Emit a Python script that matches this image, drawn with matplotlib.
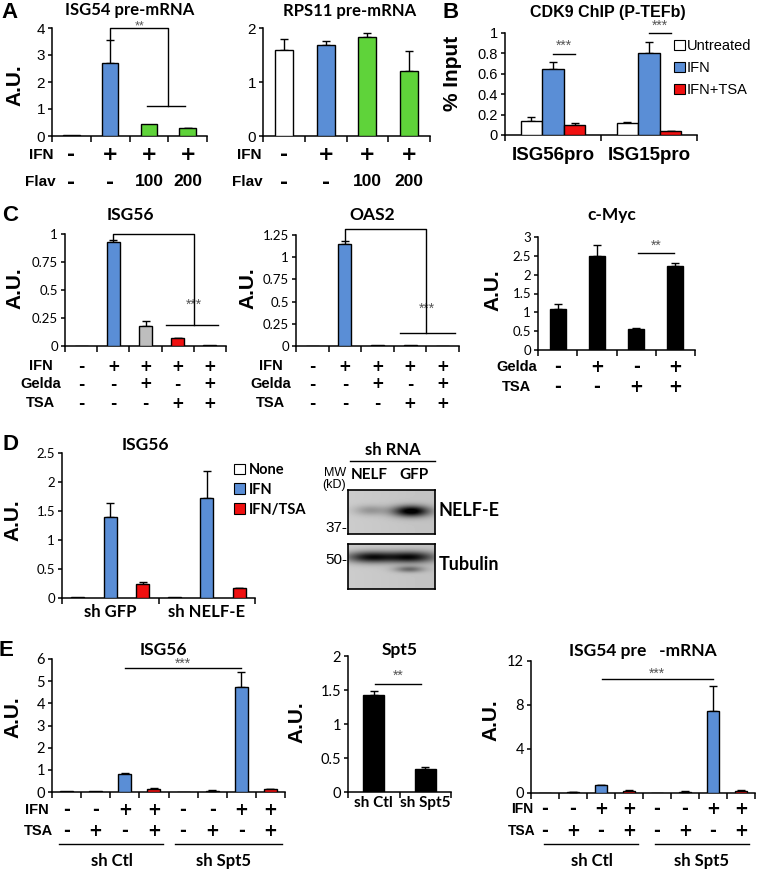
import numpy as np
import matplotlib
matplotlib.use("Agg")
import matplotlib.pyplot as plt
from matplotlib.transforms import blended_transform_factory
from matplotlib.patches import Patch

W, H = 757, 869
CAL = ['Lato', 'DejaVu Sans']
ARI = ['Liberation Sans', 'DejaVu Sans']
PM = ['DejaVu Sans']
BLUE = '#5A8ED6'
GREEN = '#5FD33A'
RED = '#F01010'
GRAY = '#BEBEBE'
WHITE = '#FFFFFF'
BLACK = '#000000'

# ---------------- data ----------------
# Panel A
a_ifn = ['-', '+', '+', '+']
a_flav = ['-', '-', '100', '200']
a1_vals = [0.05, 2.72, 0.45, 0.28]
a1_err = [0.0, 0.85, 0.0, 0.03]
a2_vals = [1.60, 1.68, 1.83, 1.20]
a2_err = [0.20, 0.08, 0.08, 0.38]
a_colors = [WHITE, BLUE, GREEN, GREEN]

# Panel B
b_groups = ['ISG56pro', 'ISG15pro']
b_series = ['Untreated', 'IFN', 'IFN+TSA']
b_untreated = [0.14, 0.12]
b_untreated_err = [0.04, 0.005]
b_ifn = [0.65, 0.80]
b_ifn_err = [0.07, 0.11]
b_ifn_tsa = [0.10, 0.04]
b_ifn_tsa_err = [0.02, 0.003]

# Panel C
c_ifn = ['-', '+', '+', '+', '+']
c_gelda = ['-', '-', '+', '-', '+']
c_tsa = ['-', '-', '-', '+', '+']
c1_vals = [0.0, 0.93, 0.18, 0.07, 0.005]
c1_err = [0.0, 0.015, 0.045, 0.005, 0.0]
c2_vals = [0.005, 1.15, 0.01, 0.01, 0.005]
c2_err = [0.0, 0.03, 0.0, 0.0, 0.0]
c_colors = [WHITE, BLUE, GRAY, RED, WHITE]
c3_gelda = ['-', '+', '-', '+']
c3_tsa = ['-', '-', '+', '+']
c3_vals = [1.10, 2.50, 0.55, 2.22]
c3_err = [0.12, 0.28, 0.03, 0.10]

# Panel D
d_groups = ['sh GFP', 'sh NELF-E']
d_series = ['None', 'IFN', 'IFN/TSA']
d_none = [0.01, 0.01]
d_ifn = [1.40, 1.72]
d_ifn_err = [0.24, 0.47]
d_ifn_tsa = [0.25, 0.17]
d_ifn_tsa_err = [0.02, 0.01]

# Panel E
e_ifn = ['-', '-', '+', '+', '-', '-', '+', '+']
e_tsa = ['-', '+', '-', '+', '-', '+', '-', '+']
e_colors = [WHITE, WHITE, BLUE, RED, WHITE, WHITE, BLUE, RED]
e1_vals = [0.04, 0.04, 0.83, 0.15, 0.02, 0.06, 4.75, 0.13]
e1_err = [0.0, 0.0, 0.04, 0.02, 0.0, 0.04, 0.65, 0.02]
e2_groups = ['sh Ctl', 'sh Spt5']
e2_vals = [1.43, 0.34]
e2_err = [0.05, 0.03]
e3_vals = [0.02, 0.07, 0.70, 0.18, 0.03, 0.10, 7.50, 0.20]
e3_err = [0.0, 0.03, 0.05, 0.05, 0.0, 0.05, 2.20, 0.10]

# ---------------- helpers ----------------
fig = plt.figure(figsize=(W / 100, H / 100), dpi=100)
fig.patch.set_facecolor('white')


def fx(x):
    return x / W


def fy(y):
    return 1 - y / H


def add_ax(l, r, t, b):
    return fig.add_axes([l / W, 1 - b / H, (r - l) / W, (b - t) / H])


def style(ax, n, ylim, yticks, ylabels, ysize=9, yfam=CAL):
    for s in ['top', 'right']:
        ax.spines[s].set_visible(False)
    for s in ['left', 'bottom']:
        ax.spines[s].set_linewidth(1.1)
    ax.set_xlim(-0.5, n - 0.5)
    ax.set_ylim(*ylim)
    ax.set_xticks(np.arange(-0.5, n, 1.0))
    ax.set_xticklabels([])
    ax.tick_params(axis='x', length=4, width=1.1, direction='out')
    ax.set_yticks(yticks)
    ax.set_yticklabels(ylabels, fontsize=ysize, family=yfam)
    ax.tick_params(axis='y', length=3, width=1.1, direction='out', pad=2)
    ax.set_facecolor('none')


def bars(ax, x, vals, errs, colors, width):
    ax.bar(x, vals, width=width, color=colors, edgecolor='black', linewidth=1.0, zorder=3)
    for xi, v, e in zip(x, vals, errs):
        if e > 0:
            ax.errorbar(xi, v, yerr=[[0], [e]], fmt='none', ecolor='black',
                        elinewidth=1.0, capsize=3, capthick=1.0, zorder=2, clip_on=False)


def rows(ax, name, labels, ypx, name_x, size=10.5, pm=14):
    tr = blended_transform_factory(ax.transData, fig.transFigure)
    for i, lab in enumerate(labels):
        if lab in ['+', '-']:
            ax.text(i, fy(ypx), lab, transform=tr, ha='center', va='center',
                    fontsize=pm, fontweight='bold', family=PM)
        else:
            ax.text(i, fy(ypx), lab, transform=tr, ha='center', va='center',
                    fontsize=size + 1.5, fontweight='bold', family=ARI)
    fig.text(fx(name_x), fy(ypx), name, ha='center', va='center',
             fontsize=size, fontweight='bold', family=ARI)


def ylab(text, x, y, size=15):
    fig.text(fx(x), fy(y), text, rotation=90, ha='center', va='center',
             fontsize=size, fontweight='bold', family=ARI)


def title(text, x, y, size=12.5, fam=CAL):
    fig.text(fx(x), fy(y), text, ha='center', va='center', fontsize=size,
             fontweight='bold', family=fam)


def letter(text, x, y):
    fig.text(fx(x), fy(y), text, ha='center', va='center', fontsize=16,
             fontweight='bold', family=ARI)


def line(ax, xs, ys):
    ax.plot(xs, ys, color='black', lw=1.0, clip_on=False, zorder=4)


def stars(ax, x, y, s, size=10):
    ax.text(x, y, s, ha='center', va='center', fontsize=size, color='#555555', family=ARI)


# ---------------- Panel A ----------------
letter('A', 10, 12)
ax = add_ax(52, 207, 28, 136)
style(ax, 4, (0, 4), [0, 1, 2, 3, 4], ['0', '1', '2', '3', '4'], ysize=11, yfam=ARI)
bars(ax, np.arange(4), a1_vals, a1_err, a_colors, 0.43)
line(ax, [1, 1, 2.5, 2.5], [3.57, 4.0, 4.0, 1.1])
line(ax, [1.96, 2.94], [1.1, 1.1])
stars(ax, 1.76, 4.07, '**', size=9)
rows(ax, 'IFN', a_ifn, 155, 41, size=11, pm=14)
rows(ax, 'Flav', a_flav, 182, 40, size=11, pm=14)
title('ISG54 pre-mRNA', 130, 10, size=12)
ylab('A.U.', 15, 85)

ax = add_ax(263, 430, 28, 136)
style(ax, 4, (0, 2), [0, 1, 2], ['0', '1', '2'], ysize=11, yfam=ARI)
bars(ax, np.arange(4), a2_vals, a2_err, a_colors, 0.43)
rows(ax, 'IFN', a_ifn, 155, 249, size=11, pm=14)
rows(ax, 'Flav', a_flav, 182, 247, size=11, pm=14)
title('RPS11 pre-mRNA', 350, 11, size=12)

# ---------------- Panel B ----------------
letter('B', 451, 12)
ax = add_ax(505, 697, 33, 135)
style(ax, 2, (0, 1), [0, 0.2, 0.4, 0.6, 0.8, 1.0], ['0', '0.2', '0.4', '0.6', '0.8', '1'],
      ysize=10.5, yfam=ARI)
bw = 0.225
gx = np.arange(2)
bars(ax, gx - bw, b_untreated, b_untreated_err, [WHITE] * 2, bw)
bars(ax, gx, b_ifn, b_ifn_err, [BLUE] * 2, bw)
bars(ax, gx + bw, b_ifn_tsa, b_ifn_tsa_err, [RED] * 2, bw)
ax.set_xticks(gx, minor=True)
ax.set_xticklabels(b_groups, minor=True, fontsize=13.5, fontweight='bold', family=ARI)
ax.tick_params(axis='x', which='minor', length=0, pad=9)
line(ax, [0, bw], [0.79, 0.79])
stars(ax, bw / 2, 0.87, '***')
line(ax, [1, 1 + bw], [1.0, 1.0])
stars(ax, 1 + bw / 2, 1.07, '***')
handles = [Patch(facecolor=c, edgecolor='black', linewidth=0.8) for c in [WHITE, BLUE, RED]]
fig.legend(handles, b_series, loc='upper left', bbox_to_anchor=(fx(674), fy(39)),
           frameon=False, prop={'family': ARI, 'size': 10.5}, handlelength=0.75,
           handleheight=0.75, handletextpad=0.15, labelspacing=0.55, borderaxespad=0,
           borderpad=0)
title('CDK9 ChIP (P-TEFb)', 608, 12, size=11.5, fam=ARI)
ylab('% Input', 452, 73)

# ---------------- Panel C ----------------
letter('C', 10, 215)
ax = add_ax(65, 226, 234, 346)
style(ax, 5, (0, 1), [0, 0.25, 0.5, 0.75, 1], ['0', '0.25', '0.5', '0.75', '1'], ysize=9.5)
bars(ax, np.arange(5), c1_vals, c1_err, c_colors, 0.4)
line(ax, [1, 1, 3.5, 3.5], [0.955, 1.0, 1.0, 0.19])
line(ax, [2.64, 4.25], [0.19, 0.19])
stars(ax, 3.5, 0.37, '***')
rows(ax, 'IFN', c_ifn, 366, 41, size=10.5, pm=11)
rows(ax, 'Gelda', c_gelda, 384, 41, size=10.5, pm=11)
rows(ax, 'TSA', c_tsa, 403, 41, size=10.5, pm=11)
title('ISG56', 130, 215)
ylab('A.U.', 15, 288)

ax = add_ax(296, 459, 235, 346)
style(ax, 5, (0, 1.25), [0, 0.25, 0.5, 0.75, 1, 1.25],
      ['0', '0.25', '0.5', '0.75', '1', '1.25'], ysize=9.5)
bars(ax, np.arange(5), c2_vals, c2_err, c_colors, 0.4)
line(ax, [1, 1, 3.5, 3.5], [1.19, 1.32, 1.32, 0.15])
line(ax, [2.69, 4.38], [0.15, 0.15])
stars(ax, 3.5, 0.42, '***')
rows(ax, 'IFN', c_ifn, 366, 271, size=10.5, pm=11)
rows(ax, 'Gelda', c_gelda, 384, 271, size=10.5, pm=11)
rows(ax, 'TSA', c_tsa, 403, 271, size=10.5, pm=11)
title('OAS2', 372, 215)
ylab('A.U.', 248, 288)

ax = add_ax(538, 695, 237, 350)
style(ax, 4, (0, 3), [0, 0.5, 1, 1.5, 2, 2.5, 3],
      ['0', '0.5', '1', '1.5', '2', '2.5', '3'], ysize=9.5)
bars(ax, np.arange(4), c3_vals, c3_err, [BLACK] * 4, 0.41)
line(ax, [2.05, 2.97], [2.57, 2.57])
stars(ax, 2.5, 2.78, '**')
rows(ax, 'Gelda', c3_gelda, 367, 517, size=10.5, pm=12)
rows(ax, 'TSA', c3_tsa, 387, 517, size=10.5, pm=12)
title('c-Myc', 612, 215)
ylab('A.U.', 493, 290)

# ---------------- Panel D ----------------
letter('D', 10, 445)
ax = add_ax(62, 255, 453, 598)
style(ax, 2, (0, 2.5), [0, 0.5, 1, 1.5, 2, 2.5], ['0', '0.5', '1', '1.5', '2', '2.5'], ysize=9.5)
dw = 0.135
ds = 0.335
gx = np.arange(2)
bars(ax, gx - ds, d_none, [0, 0], [WHITE] * 2, dw)
bars(ax, gx, d_ifn, d_ifn_err, [BLUE] * 2, dw)
bars(ax, gx + ds, d_ifn_tsa, d_ifn_tsa_err, [RED] * 2, dw)
ax.set_xticks(gx, minor=True)
ax.set_xticklabels(d_groups, minor=True, fontsize=12, fontweight='bold', family=CAL)
ax.tick_params(axis='x', which='minor', length=0, pad=4)
handles = [Patch(facecolor=c, edgecolor='black', linewidth=0.8) for c in [WHITE, BLUE, RED]]
fig.legend(handles, d_series, loc='upper left', bbox_to_anchor=(fx(234), fy(463)),
           frameon=False, prop={'family': CAL, 'size': 10.5, 'weight': 'bold'},
           handlelength=0.75, handleheight=0.75, handletextpad=0.3, labelspacing=0.4,
           borderaxespad=0, borderpad=0)
title('ISG56', 145, 445)
ylab('A.U.', 13, 520)


# Western blot (schematic image)
def blot(shape, bands):
    h, w = shape
    yy, xx = np.mgrid[0:h, 0:w]
    img = np.full(shape, 0.80)
    img -= 0.04 * (xx / w)
    for cx, cy, sx, sy, amp in bands:
        img -= amp * np.exp(-((xx - cx * w) ** 2) / (2 * (sx * w) ** 2)
                            - ((yy - cy * h) ** 2) / (2 * (sy * h) ** 2))
    return np.clip(img, 0, 1)


bax = add_ax(348, 435, 490, 534)
bax.imshow(blot((44, 87), [(0.25, 0.45, 0.13, 0.08, 0.2), (0.72, 0.47, 0.15, 0.09, 0.85)]),
           cmap='gray', vmin=0, vmax=1, aspect='auto', interpolation='bilinear')
bax.set_xticks([]); bax.set_yticks([])
for s in bax.spines.values():
    s.set_linewidth(1.2)
bax = add_ax(348, 435, 544, 589)
bax.imshow(blot((45, 87), [(0.25, 0.28, 0.2, 0.09, 0.7), (0.72, 0.28, 0.2, 0.09, 0.7),
                          (0.7, 0.55, 0.12, 0.05, 0.35)]),
           cmap='gray', vmin=0, vmax=1, aspect='auto', interpolation='bilinear')
bax.set_xticks([]); bax.set_yticks([])
for s in bax.spines.values():
    s.set_linewidth(1.2)
fig.text(fx(393), fy(450), 'sh RNA', ha='center', va='center', fontsize=12,
         fontweight='bold', family=CAL)
fig.add_artist(plt.Line2D([fx(350), fx(435)], [fy(461), fy(461)], color='black', lw=1))
fig.text(fx(369), fy(475), 'NELF', ha='center', va='center', fontsize=11,
         fontweight='bold', family=CAL)
fig.text(fx(414), fy(475), 'GFP', ha='center', va='center', fontsize=11,
         fontweight='bold', family=CAL)
fig.text(fx(346), fy(479), 'MW\n(kD)', ha='right', va='center', fontsize=9,
         family=ARI, linespacing=1.1)
fig.text(fx(347), fy(528), '37-', ha='right', va='center', fontsize=11, family=ARI)
fig.text(fx(347), fy(560), '50-', ha='right', va='center', fontsize=11, family=ARI)
fig.text(fx(439), fy(511), 'NELF-E', ha='left', va='center', fontsize=13,
         fontweight='bold', family=CAL)
fig.text(fx(439), fy(565), 'Tubulin', ha='left', va='center', fontsize=13,
         fontweight='bold', family=CAL)

# ---------------- Panel E ----------------
letter('E', 6, 650)


def group_lines(ax, spans, labels, label_x):
    tr = blended_transform_factory(ax.transData, fig.transFigure)
    for (x0, x1), lab, lx in zip(spans, labels, label_x):
        ax.add_line(plt.Line2D([x0, x1], [fy(844), fy(844)], transform=tr,
                               color='black', lw=1.0, clip_on=False))
        ax.text(lx, fy(861), lab, transform=tr, ha='center', va='center',
                fontsize=12, fontweight='bold', family=CAL)


ax = add_ax(52, 285, 659, 792)
style(ax, 8, (0, 6), [0, 1, 2, 3, 4, 5, 6], ['0', '1', '2', '3', '4', '5', '6'], ysize=10.5)
bars(ax, np.arange(8), e1_vals, e1_err, e_colors, 0.45)
line(ax, [2, 6], [5.6, 5.6])
stars(ax, 4, 5.8, '***')
rows(ax, 'IFN', e_ifn, 810, 37, size=10.5, pm=12)
rows(ax, 'TSA', e_tsa, 831, 38, size=10.5, pm=12)
group_lines(ax, [(-0.26, 3.3), (3.73, 7.4)], e2_groups, [1.56, 5.4])
title('ISG56', 163, 650)
ylab('A.U.', 13, 717)

ax = add_ax(348, 451, 656, 792)
style(ax, 2, (0, 2), [0, 0.5, 1, 1.5, 2], ['0', '0.5', '1', '1.5', '2'], ysize=10.5)
bars(ax, np.arange(2), e2_vals, e2_err, [BLACK] * 2, 0.4)
ax.set_xticks([-0.5, 0.5, 1.5])
ax.set_xticks(np.arange(2), minor=True)
ax.set_xticklabels(e2_groups, minor=True, fontsize=11, fontweight='bold', family=CAL)
ax.tick_params(axis='x', which='minor', length=0, pad=3)
line(ax, [0.02, 0.92], [1.59, 1.59])
stars(ax, 0.47, 1.71, '**')
title('Spt5', 400, 650)
ylab('A.U.', 297, 722)

ax = add_ax(531, 755, 661, 793)
style(ax, 8, (0, 12), [0, 4, 8, 12], ['0', '4', '8', '12'], ysize=10.5)
bars(ax, np.arange(8), e3_vals, e3_err, e_colors, 0.44)
line(ax, [2.04, 6.0], [10.4, 10.4])
stars(ax, 4.0, 10.85, '***')
rows(ax, 'IFN', e_ifn, 809, 522, size=10, pm=12)
rows(ax, 'TSA', e_tsa, 831, 522, size=10, pm=12)
group_lines(ax, [(-0.04, 3.32), (3.93, 7.29)], e2_groups, [1.68, 5.6])
title('ISG54 pre   -mRNA', 643, 651)
ylab('A.U.', 491, 720)

fig.savefig('out.png', dpi=100, facecolor='white')
